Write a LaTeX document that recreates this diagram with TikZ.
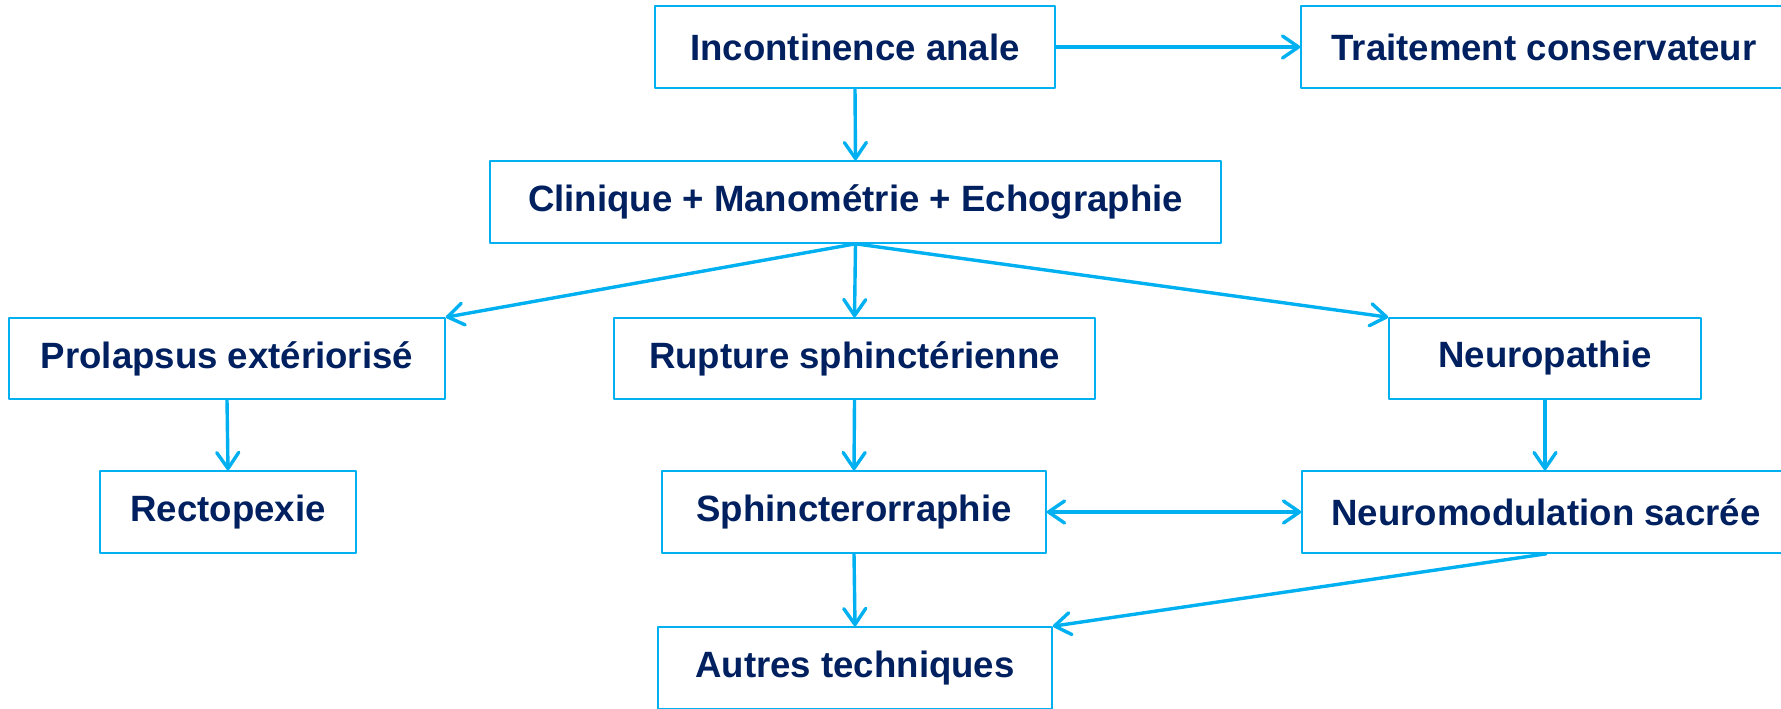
\documentclass[tikz,border=0pt]{standalone}
\usepackage{fontspec}
\setmainfont{Liberation Sans}
\usepackage{xcolor}
\usetikzlibrary{arrows.meta}

\definecolor{framecyan}{HTML}{00B0F0}
\definecolor{textnavy}{HTML}{002060}

\begin{document}
\begin{tikzpicture}[x=0.5pt, y=-0.5pt, line join=round, line cap=round,
  >={Straight Barb[length=8pt, width=11pt, round]},
  box/.style={draw=framecyan, line width=0.8pt, fill=white, rectangle,
    minimum height=41pt, inner sep=0pt, text=textnavy,
    font=\fontsize{18.3pt}{22pt}\selectfont\bfseries},
  link/.style={draw=framecyan, line width=1.7pt, ->}]
  % Canvas (boxes on the right and bottom run past the edge)
  \clip (0,0) rectangle (1781,708);

  % Top row
  \node[box, minimum width=200pt] (inc) at (855,47) {Incontinence anale};
  \node[box, minimum width=243pt] (trt) at (1544,47) {Traitement conservateur};

  % Assessment
  \node[box, minimum width=365.5pt] (cli) at (855.5,202) {Clinique + Manométrie + Echographie};

  % Causes
  \node[box, minimum width=218pt, minimum height=40.5pt] (pro) at (227,358.5) {Prolapsus extériorisé};
  \node[box, minimum width=240.5pt, minimum height=40.5pt] (rup) at (854.5,358.5) {Rupture sphinctérienne};
  \node[box, minimum width=156pt, minimum height=40.5pt] (neu) at (1545,358.5) {Neuropathie};

  % Treatments
  \node[box, minimum width=128pt] (rec) at (228,512) {Rectopexie};
  \node[box, minimum width=192pt] (sph) at (854,512) {Sphincterorraphie};
  \node[box, minimum width=244pt] (nmd) at (1546,512) {Neuromodulation sacrée};
  \node[box, minimum width=197pt] (aut) at (855,668) {Autres techniques};

  % Connectors
  \draw[link] (inc.east) -- (trt.west);
  \draw[link] (inc.south) -- (cli.north);
  \draw[link] (cli.south) -- (pro.north east);
  \draw[link] (cli.south) -- (rup.north);
  \draw[link] (cli.south) -- (neu.north west);
  \draw[link] (pro.south) -- (rec.north);
  \draw[link] (rup.south) -- (sph.north);
  \draw[link] (neu.south) -- (neu.south |- nmd.north);
  \draw[link, <->] (sph.east) -- (nmd.west);
  \draw[link] (sph.south) -- (aut.north);
  \draw[link] (nmd.south) -- (aut.north east);
\end{tikzpicture}
\end{document}
